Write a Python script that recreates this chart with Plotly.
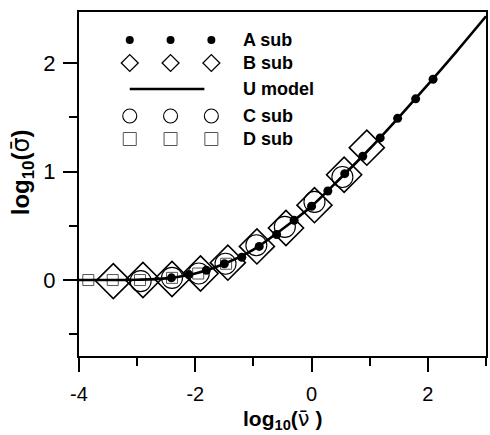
import plotly.graph_objects as go

# ---- data (log10 values) ----
a_x = [-2.41, -2.11, -1.81, -1.50, -1.20, -0.90, -0.60, -0.30, 0.00, 0.28, 0.57, 0.88, 1.18, 1.48, 1.79, 2.09]
a_y = [0.02, 0.05, 0.09, 0.15, 0.21, 0.31, 0.42, 0.55, 0.68, 0.82, 0.98, 1.14, 1.31, 1.49, 1.67, 1.85]

b_x = [-3.41, -2.90, -2.40, -1.91, -1.44, -0.94, -0.44, 0.05, 0.56, 0.95]
b_y = [-0.01, 0.00, 0.01, 0.06, 0.16, 0.31, 0.48, 0.69, 0.97, 1.22]

c_x = [-2.94, -2.40, -1.94, -1.48, -0.95, -0.46, 0.05, 0.53]
c_y = [-0.01, 0.02, 0.06, 0.15, 0.32, 0.49, 0.72, 0.95]

d_x = [-3.84, -3.42, -2.95, -2.40, -1.95, -1.47]
d_y = [0.00, 0.00, 0.00, 0.02, 0.06, 0.15]

u_x = [-4.0, -3.5, -3.0, -2.5, -2.0, -1.5, -1.0, -0.5, 0.0, 0.5, 1.0, 1.5, 2.0, 2.5, 3.0]
u_y = [0.0, 0.0, 0.003, 0.015, 0.06, 0.15, 0.28, 0.47, 0.68, 0.94, 1.21, 1.50, 1.80, 2.11, 2.43]

x_ticks = [-4, -2, 0, 2]
y_ticks = [0, 1, 2]
series_names = ["A sub", "B sub", "U model", "C sub", "D sub"]

FONT = "Liberation Sans, Arial, sans-serif"
GREEK = "DejaVu Sans"
BLACK = "#000000"

fig = go.Figure()

# data traces
fig.add_trace(go.Scatter(x=d_x, y=d_y, mode="markers", name="D sub",
                         marker=dict(symbol="square-open", size=11, color="#555555",
                                     line=dict(width=1, color="#555555"))))
fig.add_trace(go.Scatter(x=b_x, y=b_y, mode="markers", name="B sub",
                         marker=dict(symbol="diamond-open", size=27, color=BLACK,
                                     line=dict(width=1.6, color=BLACK))))
fig.add_trace(go.Scatter(x=c_x, y=c_y, mode="markers", name="C sub",
                         marker=dict(symbol="circle-open", size=21, color=BLACK,
                                     line=dict(width=1.1, color=BLACK))))
fig.add_trace(go.Scatter(x=u_x, y=u_y, mode="lines", name="U model",
                         line=dict(color=BLACK, width=2.6, shape="spline", smoothing=0.8)))
fig.add_trace(go.Scatter(x=a_x, y=a_y, mode="markers", name="A sub",
                         marker=dict(symbol="circle", size=9, color=BLACK)))

# in-plot key drawn on an overlay pixel-like frame
PL, PR, PT, PB = 79, 488, 12, 356
key_rows = [40, 63, 89, 116, 139]
key_cols = [130, 171, 212]
key_styles = [
    dict(symbol="circle", size=8, color=BLACK),
    dict(symbol="diamond-open", size=13, color=BLACK, line=dict(width=1.3, color=BLACK)),
    None,
    dict(symbol="circle-open", size=14, color=BLACK, line=dict(width=1.1, color=BLACK)),
    dict(symbol="square-open", size=13, color="#555555", line=dict(width=1, color="#555555")),
]
for row_y, style in zip(key_rows, key_styles):
    if style is None:
        fig.add_trace(go.Scatter(x=[130, 205], y=[row_y, row_y], mode="lines",
                                 line=dict(color=BLACK, width=2.6),
                                 xaxis="x2", yaxis="y2", showlegend=False, hoverinfo="skip"))
    else:
        fig.add_trace(go.Scatter(x=key_cols, y=[row_y] * 3, mode="markers", marker=style,
                                 xaxis="x2", yaxis="y2", showlegend=False, hoverinfo="skip"))

annotations = []
for row_y, label in zip(key_rows, series_names):
    annotations.append(dict(x=(242 - PL) / (PR - PL), y=(PB - row_y) / (PB - PT),
                            xref="paper", yref="paper", xanchor="left", yanchor="middle",
                            text="<b>%s</b>" % label, showarrow=False,
                            font=dict(family=FONT, size=18, color=BLACK)))

# axis titles
nu_bar = "<span style=\"font-family:%s;font-weight:normal\">\u03bd\u0304</span>" % GREEK
sigma_bar = "<span style=\"font-family:%s;font-weight:normal\">\u03c3\u0304</span>" % GREEK
annotations.append(dict(x=0.5, y=(PB - 420) / (PB - PT), xref="paper", yref="paper",
                        xanchor="center", yanchor="middle", showarrow=False,
                        text="<b>log<sub>10</sub>(</b>" + nu_bar + "<b> )</b>",
                        font=dict(family=FONT, size=21, color=BLACK)))
annotations.append(dict(x=(22 - PL) / (PR - PL), y=(PB - 172) / (PB - PT), xref="paper", yref="paper",
                        xanchor="center", yanchor="middle", showarrow=False, textangle=-90,
                        text="<b>log<sub>10</sub>(</b>" + sigma_bar + "<b>)</b>",
                        font=dict(family=FONT, size=24, color=BLACK)))

axis_common = dict(showgrid=False, zeroline=False, showline=True, linewidth=2, linecolor=BLACK,
                   mirror=True, ticks="outside", ticklen=14, tickwidth=2, tickcolor=BLACK)

fig.update_layout(
    width=490, height=435,
    margin=dict(l=PL, r=490 - PR, t=PT, b=435 - PB),
    paper_bgcolor="white", plot_bgcolor="white",
    showlegend=False,
    annotations=annotations,
    xaxis=dict(range=[-4, 3], tickvals=x_ticks, ticktext=[str(v) for v in x_ticks],
               tickfont=dict(family=FONT, size=20, color=BLACK), ticklabelstandoff=5,
               minor=dict(ticks="outside", ticklen=8, tickwidth=2, tickcolor=BLACK, dtick=1, tick0=-4, showgrid=False),
               **axis_common),
    yaxis=dict(range=[-0.7, 2.47], tickvals=y_ticks, ticktext=[str(v) for v in y_ticks],
               tickfont=dict(family=FONT, size=22, color=BLACK), ticklabelstandoff=3,
               minor=dict(ticks="outside", ticklen=8, tickwidth=2, tickcolor=BLACK, dtick=0.5, tick0=0, showgrid=False),
               **axis_common),
    xaxis2=dict(overlaying="x", anchor="y2", range=[PL, PR], visible=False, fixedrange=True),
    yaxis2=dict(overlaying="y", anchor="x2", range=[PB, PT], visible=False, fixedrange=True),
)

fig.write_html("out.html")
